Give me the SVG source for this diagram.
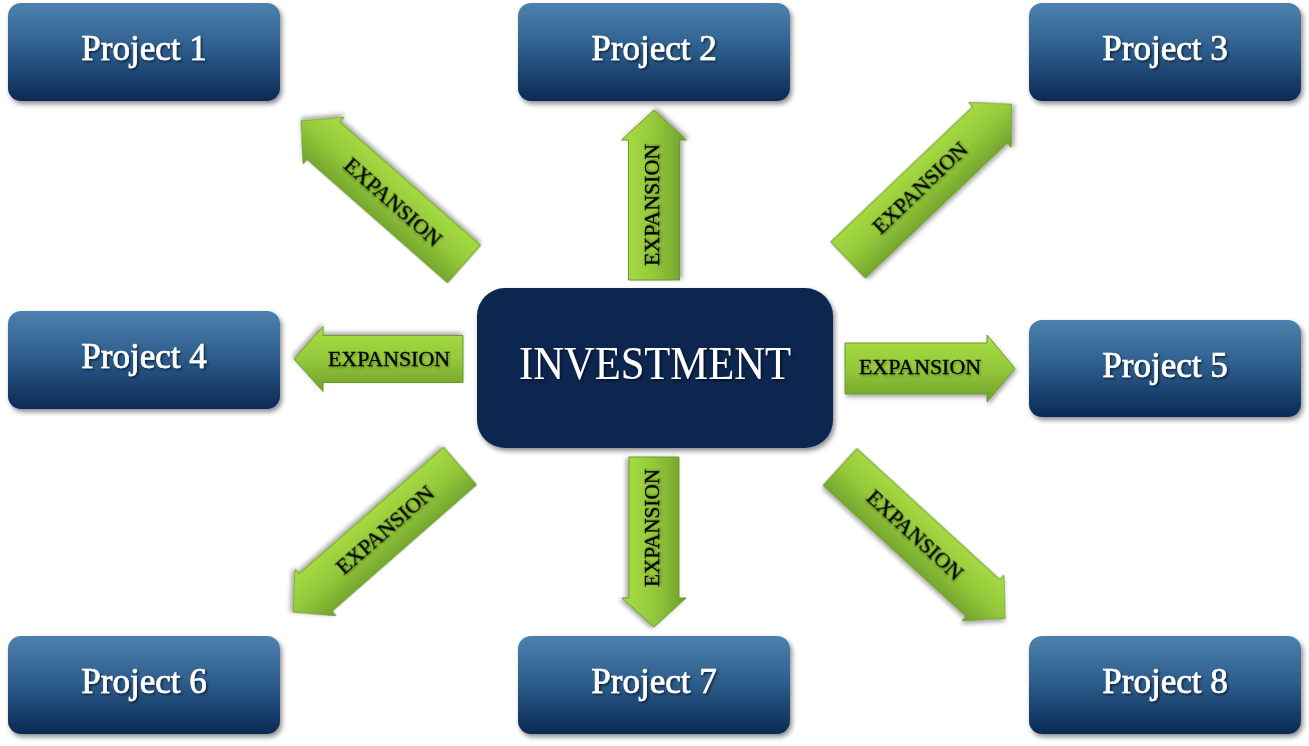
<svg xmlns="http://www.w3.org/2000/svg" width="1309" height="746" viewBox="0 0 1309 746">
<defs>
<linearGradient id="boxGrad" x1="0" y1="0" x2="0" y2="1">
<stop offset="0" stop-color="#4c82ad"/>
<stop offset="0.45" stop-color="#2f5f8e"/>
<stop offset="1" stop-color="#0a2a55"/>
</linearGradient>
<linearGradient id="gA" x1="0" y1="0" x2="0" y2="1">
<stop offset="0" stop-color="#a9de44"/>
<stop offset="0.5" stop-color="#93c93a"/>
<stop offset="1" stop-color="#6f9e2c"/>
</linearGradient>
<linearGradient id="gB" x1="0" y1="1" x2="0" y2="0">
<stop offset="0" stop-color="#a9de44"/>
<stop offset="0.5" stop-color="#93c93a"/>
<stop offset="1" stop-color="#6f9e2c"/>
</linearGradient>
<filter id="boxShadow" x="-10%" y="-10%" width="125%" height="130%">
<feDropShadow dx="2" dy="3" stdDeviation="2.5" flood-color="#000" flood-opacity="0.45"/>
</filter>
<filter id="arrowShadow" x="-10%" y="-20%" width="130%" height="150%">
<feDropShadow dx="1.5" dy="2.5" stdDeviation="2" flood-color="#000" flood-opacity="0.35"/>
</filter>
<filter id="txtShadow" x="-10%" y="-30%" width="130%" height="170%">
<feDropShadow dx="1.5" dy="1.5" stdDeviation="1" flood-color="#000" flood-opacity="0.6"/>
</filter>
<filter id="expShadow" x="-10%" y="-30%" width="130%" height="170%">
<feDropShadow dx="1" dy="1.5" stdDeviation="1.2" flood-color="#000" flood-opacity="0.35"/>
</filter>
</defs>
<style>
.box{fill:url(#boxGrad);filter:url(#boxShadow);}
.plabel{font-family:"Liberation Serif","DejaVu Serif",serif;font-size:35px;fill:#ffffff;stroke:#ffffff;stroke-width:0.7;text-anchor:middle;filter:url(#txtShadow);}
.center{fill:#0a274f;filter:url(#boxShadow);}
.clabel{font-family:"Liberation Serif","DejaVu Serif",serif;font-size:46px;fill:#ffffff;text-anchor:middle;filter:url(#txtShadow);}
.arrA{fill:url(#gA);stroke:#6c9a2a;stroke-width:1;filter:url(#arrowShadow);}
.arrB{fill:url(#gB);stroke:#6c9a2a;stroke-width:1;filter:url(#arrowShadow);}
.exp{font-family:"Liberation Serif","DejaVu Serif",serif;font-size:21px;fill:#000000;stroke:#000000;stroke-width:0.3;text-anchor:middle;filter:url(#expShadow);}
</style>
<rect width="1309" height="746" fill="#ffffff"/>

<g id="connectors">
<g id="arrow-p1" transform="translate(464,264) rotate(221.3)">
<path class="arrB" d="M0,-25 H187 V-31 L217,0 L187,31 V25 H0 Z"/>
</g>
<g id="arrow-p2" transform="translate(654,280) rotate(-90)">
<path class="arrA" d="M0,-25.5 H140 V-32.5 L170,0 L140,32.5 V25.5 H0 Z"/>
</g>
<g id="arrow-p3" transform="translate(848,260) rotate(-43.6)">
<path class="arrA" d="M0,-25 H196 V-31 L226,0 L196,31 V25 H0 Z"/>
</g>
<g id="arrow-p4" transform="translate(463,359) rotate(180)">
<path class="arrB" d="M0,-23.5 H140 V-32.5 L169,0 L140,32.5 V23.5 H0 Z"/>
</g>
<g id="arrow-p5" transform="translate(845,368.5) rotate(0)">
<path class="arrA" d="M0,-25.5 H142 V-33.5 L170,0 L142,33.5 V25.5 H0 Z"/>
</g>
<g id="arrow-p6" transform="translate(460,466) rotate(138.8)">
<path class="arrB" d="M0,-25 H192 V-31 L222,0 L192,31 V25 H0 Z"/>
</g>
<g id="arrow-p7" transform="translate(654,457) rotate(90)">
<path class="arrB" d="M0,-25 H141 V-32 L170,0 L141,32 V25 H0 Z"/>
</g>
<g id="arrow-p8" transform="translate(840,467) rotate(42.5)">
<path class="arrA" d="M0,-25 H194 V-31 L224,0 L194,31 V25 H0 Z"/>
</g>

<text class="exp" transform="translate(393,202) rotate(41.3)" dy="7" textLength="122" lengthAdjust="spacingAndGlyphs">EXPANSION</text>
<text class="exp" transform="translate(652,205) rotate(-90)" dy="7" textLength="122" lengthAdjust="spacingAndGlyphs">EXPANSION</text>
<text class="exp" transform="translate(920,188) rotate(-43.6)" dy="7" textLength="122" lengthAdjust="spacingAndGlyphs">EXPANSION</text>
<text class="exp" x="389" y="366" textLength="122" lengthAdjust="spacingAndGlyphs">EXPANSION</text>
<text class="exp" x="920" y="374" textLength="122" lengthAdjust="spacingAndGlyphs">EXPANSION</text>
<text class="exp" transform="translate(385,530) rotate(-41.2)" dy="7" textLength="122" lengthAdjust="spacingAndGlyphs">EXPANSION</text>
<text class="exp" transform="translate(652,528) rotate(-90)" dy="7" textLength="118" lengthAdjust="spacingAndGlyphs">EXPANSION</text>
<text class="exp" transform="translate(915,535) rotate(42.5)" dy="7" textLength="122" lengthAdjust="spacingAndGlyphs">EXPANSION</text>
</g>

<g id="investment">
<rect class="center" x="477" y="288" width="356" height="160" rx="28" ry="28"/>
<text class="clabel" x="655" y="379" textLength="272" lengthAdjust="spacingAndGlyphs">INVESTMENT</text>
</g>

<g id="project1">
<rect class="box" x="8" y="3" width="272" height="98" rx="13" ry="13"/>
<text class="plabel" x="144" y="60">Project 1</text>
</g>
<g id="project2">
<rect class="box" x="518" y="3" width="272" height="98" rx="13" ry="13"/>
<text class="plabel" x="654" y="60">Project 2</text>
</g>
<g id="project3">
<rect class="box" x="1029" y="3" width="272" height="98" rx="13" ry="13"/>
<text class="plabel" x="1165" y="60">Project 3</text>
</g>
<g id="project4">
<rect class="box" x="8" y="311" width="272" height="98" rx="13" ry="13"/>
<text class="plabel" x="144" y="368">Project 4</text>
</g>
<g id="project5">
<rect class="box" x="1029" y="320" width="272" height="97" rx="13" ry="13"/>
<text class="plabel" x="1165" y="377">Project 5</text>
</g>
<g id="project6">
<rect class="box" x="8" y="636" width="272" height="98" rx="13" ry="13"/>
<text class="plabel" x="144" y="693">Project 6</text>
</g>
<g id="project7">
<rect class="box" x="518" y="636" width="272" height="98" rx="13" ry="13"/>
<text class="plabel" x="654" y="693">Project 7</text>
</g>
<g id="project8">
<rect class="box" x="1029" y="636" width="272" height="98" rx="13" ry="13"/>
<text class="plabel" x="1165" y="693">Project 8</text>
</g>
</svg>
